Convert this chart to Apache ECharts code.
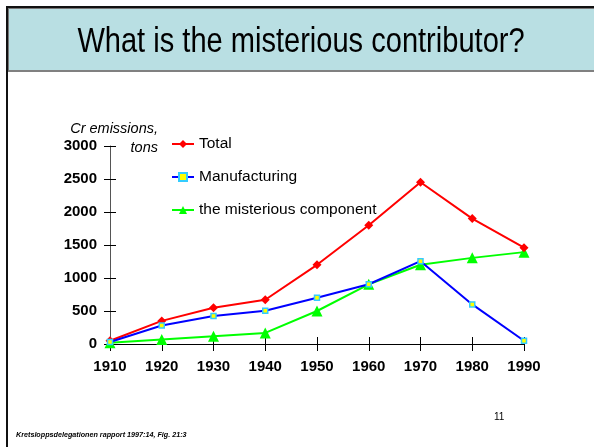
<!DOCTYPE html>
<html>
<head>
<meta charset="utf-8">
<script src="https://cdn.jsdelivr.net/npm/echarts@6/dist/echarts.min.js"></script>
<style>
  html, body { margin: 0; padding: 0; background: #fff; }
  #container { width: 594px; height: 447px; }
</style>
</head>
<body>
<div id="container"></div>
<script>
const years = ['1910', '1920', '1930', '1940', '1950', '1960', '1970', '1980', '1990']
const total = [50, 350, 550, 670, 1200, 1800, 2450, 1900, 1460]
const manufacturing = [30, 280, 425, 505, 700, 905, 1255, 600, 50]
const mysterious = [20, 70, 118, 168, 500, 905, 1200, 1305, 1392]

let mychart = echarts.init(document.getElementById('container'))

let options = {
  animation: false,
  textStyle: { fontFamily: 'Liberation Sans, Arial, sans-serif' },
  graphic: [
    // slide header band + frame
    { type: 'rect', shape: { x: 8, y: 8, width: 590, height: 63 }, style: { fill: '#b9dfe3' }, z: 0 },
    { type: 'rect', shape: { x: 8, y: 70, width: 590, height: 2 }, style: { fill: '#808080' }, z: 1 },
    { type: 'rect', shape: { x: 6, y: 6, width: 590, height: 2 }, style: { fill: '#111' }, z: 1 },
    { type: 'rect', shape: { x: 8, y: 8, width: 590, height: 1 }, style: { fill: '#777' }, z: 1 },
    { type: 'rect', shape: { x: 6, y: 6, width: 2, height: 441 }, style: { fill: '#111' }, z: 1 },
    { type: 'rect', shape: { x: 8, y: 8, width: 1, height: 63 }, style: { fill: '#777' }, z: 1 },
    {
      type: 'text', x: 301, y: 42, scaleX: 0.83, originX: 0, z: 2,
      style: {
        text: 'What is the misterious contributor?',
        align: 'center', verticalAlign: 'middle',
        font: '35px "Liberation Sans", Arial, sans-serif',
        fill: '#000'
      }
    },
    {
      type: 'text', x: 158, y: 119, z: 2,
      style: {
        text: 'Cr emissions,\ntons', align: 'right', lineHeight: 19,
        font: 'italic 14.5px "Liberation Sans", Arial, sans-serif', fill: '#000'
      }
    },
    {
      type: 'text', x: 16, y: 432, z: 2,
      style: {
        text: 'Kretsloppsdelegationen rapport 1997:14, Fig. 21:3',
        font: 'italic bold 7.2px "Liberation Sans", Arial, sans-serif', fill: '#000'
      }
    },
    {
      type: 'text', x: 494, y: 412, z: 2,
      style: { text: '11', font: '10px "Liberation Sans", Arial, sans-serif', fill: '#000' }
    }
  ],
  legend: {
    orient: 'vertical',
    left: 171,
    top: 136,
    padding: 0,
    itemWidth: 22,
    itemHeight: 10,
    itemGap: 17,
    textStyle: { fontSize: 15.5, color: '#000', fontFamily: 'Liberation Sans, Arial, sans-serif' },
    data: ['Total', 'Manufacturing', 'the misterious component']
  },
  grid: { left: 110, right: 70, top: 146, bottom: 103 },
  xAxis: [
    {
      type: 'category',
      data: years,
      boundaryGap: false,
      axisLine: { lineStyle: { color: '#000', width: 1 } },
      axisTick: { show: true, length: 7, lineStyle: { color: '#000' } },
      axisLabel: { color: '#000', fontWeight: 'bold', fontSize: 15, margin: 15 }
    },
    {
      type: 'category',
      data: years,
      boundaryGap: false,
      position: 'bottom',
      axisLine: { show: false },
      axisTick: { show: true, inside: true, length: 7, lineStyle: { color: '#000' } },
      axisLabel: { show: false }
    }
  ],
  yAxis: [
    {
      type: 'value',
      min: 0,
      max: 3000,
      interval: 500,
      axisLine: { show: true, lineStyle: { color: '#555', width: 1 } },
      axisTick: { show: true, length: 6, lineStyle: { color: '#000' } },
      axisLabel: { color: '#000', fontWeight: 'bold', fontSize: 15, margin: 13, formatter: v => String(v) },
      splitLine: { show: false }
    },
    {
      type: 'value',
      min: 0,
      max: 3000,
      interval: 500,
      position: 'left',
      axisLine: { show: false },
      axisTick: { show: true, inside: true, length: 6, lineStyle: { color: '#000' } },
      axisLabel: { show: false },
      splitLine: { show: false }
    }
  ],
  series: [
    {
      name: 'Total',
      type: 'line',
      data: total,
      symbol: 'diamond',
      symbolSize: 9,
      lineStyle: { color: '#ff0000', width: 2 },
      itemStyle: { color: '#ff0000' },
      z: 3
    },
    {
      name: 'Manufacturing',
      type: 'line',
      data: manufacturing,
      symbol: 'rect',
      symbolSize: 5,
      lineStyle: { color: '#0000ff', width: 2 },
      itemStyle: { color: '#ffff00', borderColor: '#33ccff', borderWidth: 1.5 },
      z: 4
    },
    {
      name: 'the misterious component',
      type: 'line',
      data: mysterious,
      symbol: 'triangle',
      symbolSize: 11,
      lineStyle: { color: '#00ff00', width: 2 },
      itemStyle: { color: '#00ff00' },
      z: 2
    }
  ]
}

mychart.setOption(options)
window.addEventListener('resize', () => { mychart.resize() })
</script>
</body>
</html>
